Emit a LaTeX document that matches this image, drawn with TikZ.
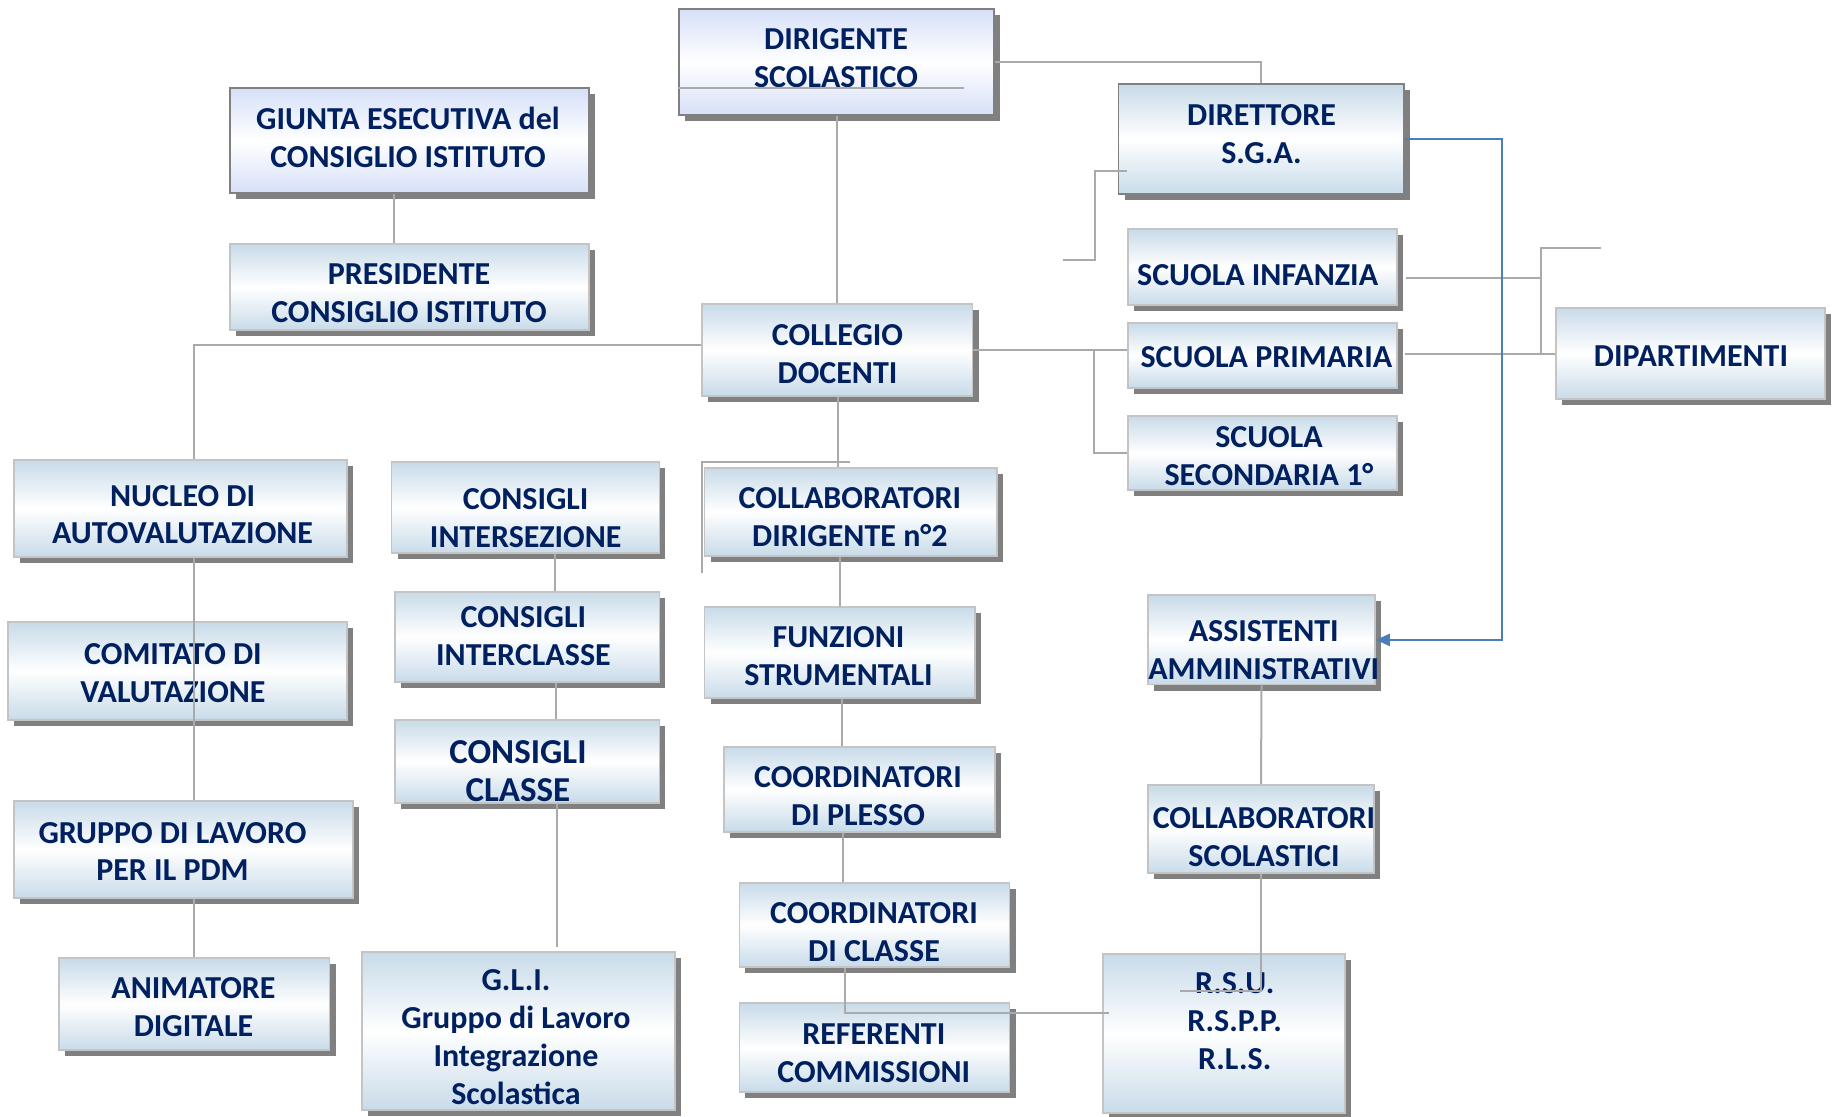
\documentclass[tikz,border=0pt]{standalone}
\usepackage{fontspec}
\setmainfont{Carlito}
\usetikzlibrary{shadows,arrows.meta}
\definecolor{navy}{RGB}{0,32,96}
\definecolor{boxblue}{RGB}{200,219,233}
\definecolor{lav}{RGB}{214,224,248}
\definecolor{lightborder}{RGB}{196,196,196}
\definecolor{darkborder}{RGB}{128,128,128}
\definecolor{shgray}{RGB}{128,128,128}
\definecolor{conngray}{RGB}{170,170,170}
\definecolor{linkblue}{RGB}{74,126,187}
\newcommand{\obox}[6]{\node[#2, minimum width={(#5-#3)*0.5pt}, minimum height={(#6-#4)*0.5pt}] (#1) at ({(#3+#5)/2},{(#4+#6)/2}) {};}
\tikzset{
 basebox/.style={rectangle, inner sep=0pt, line width=0.9pt,
   drop shadow={shadow xshift=3pt, shadow yshift=-3pt, fill=shgray, opacity=1}},
 bluebox/.style={basebox, draw=lightborder, top color=boxblue, bottom color=boxblue, middle color=white},
 lavbox/.style={basebox, draw=darkborder, top color=lav, bottom color=lav, middle color=white},
 dsgabox/.style={basebox, draw=darkborder, top color=boxblue, bottom color=boxblue, middle color=white},
 lbl/.style={text=navy, font=\bfseries\fontsize{16}{18.9}\selectfont, align=center, inner sep=0pt},
 biglbl/.style={lbl, font=\bfseries\fontsize{17.5}{19.3}\selectfont},
 conn/.style={draw=conngray, line width=1pt},
 bconn/.style={draw=linkblue, line width=1.2pt},
}
\begin{document}
\begin{tikzpicture}[x=0.5pt,y=-0.5pt]
\useasboundingbox (0,0) rectangle (1839,1117);
\fill[white] (0,0) rectangle (1839,1117);
% boxes
\obox{dir}{lavbox}{679}{9.3}{994}{115}
\obox{giu}{lavbox}{229.6}{88.3}{588.6}{193.3}
\obox{pres}{bluebox}{229.6}{244.3}{588.6}{330}
\obox{dsga}{dsgabox}{1118.5}{84.3}{1404}{194.3}
\obox{coll}{bluebox}{702}{304}{972.5}{396}
\obox{inf}{bluebox}{1128}{229.3}{1397}{305}
\obox{prim}{bluebox}{1128}{322.7}{1397}{387.7}
\obox{sec}{bluebox}{1128}{416}{1397}{490}
\obox{dip}{bluebox}{1555.8}{308}{1825}{399}
\obox{nuc}{bluebox}{13.8}{460}{347.3}{556.7}
\obox{com}{bluebox}{8}{622.3}{347.3}{720}
\obox{gru}{bluebox}{13.8}{801}{352.7}{898.3}
\obox{ani}{bluebox}{59}{958.3}{329.5}{1050}
\obox{int}{bluebox}{391.5}{462.3}{659.4}{553.3}
\obox{icl}{bluebox}{394.6}{591.7}{659.4}{681.7}
\obox{cla}{bluebox}{394.6}{720}{659.4}{802.7}
\obox{gli}{bluebox}{361.6}{952.3}{675}{1110}
\obox{cdir}{bluebox}{704.5}{467.7}{997}{556}
\obox{fun}{bluebox}{704.5}{606.7}{974.6}{698.3}
\obox{ple}{bluebox}{723.8}{746.7}{994.7}{831.7}
\obox{ccl}{bluebox}{739.4}{882.7}{1009.5}{967}
\obox{ref}{bluebox}{739.4}{1003.3}{1009.5}{1092}
\obox{ass}{bluebox}{1148}{595.3}{1375}{684.5}
\obox{csc}{bluebox}{1148}{785}{1374}{873.3}
\obox{rsu}{bluebox}{1102.8}{954}{1345}{1113.3}
% texts
\node[lbl] (dirT) at (836,58) {DIRIGENTE\\SCOLASTICO};
\node[lbl] (giuT) at (408,137.3) {GIUNTA ESECUTIVA del\\CONSIGLIO ISTITUTO};
\node[lbl] (presT) at (409,293.3) {PRESIDENTE\\CONSIGLIO ISTITUTO};
\node[lbl] (dsgaT) at (1261.5,134) {DIRETTORE\\S.G.A.};
\node[lbl] (collT) at (837.5,353.8) {COLLEGIO\\DOCENTI};
\node[lbl] (infT) at (1257.6,275) {SCUOLA INFANZIA};
\node[lbl] (primT) at (1266.4,356.7) {SCUOLA PRIMARIA};
\node[lbl] (secT) at (1269,455.8) {SCUOLA\\SECONDARIA 1°};
\node[lbl] (dipT) at (1691,356) {DIPARTIMENTI};
\node[lbl] (nucT) at (182.6,514.7) {NUCLEO DI\\AUTOVALUTAZIONE};
\node[lbl] (comT) at (173,673.3) {COMITATO DI\\VALUTAZIONE};
\node[lbl] (gruT) at (172.5,851.5) {GRUPPO DI LAVORO\\PER IL PDM};
\node[lbl] (aniT) at (193.5,1007.5) {ANIMATORE\\DIGITALE};
\node[lbl] (intT) at (525.7,517.8) {CONSIGLI\\INTERSEZIONE};
\node[lbl] (iclT) at (523.4,635.8) {CONSIGLI\\INTERCLASSE};
\node[biglbl] (claT) at (517.9,771.2) {CONSIGLI\\CLASSE};
\node[lbl] (gliT) at (516,1037) {G.L.I.\\Gruppo di Lavoro\\Integrazione\\Scolastica};
\node[lbl] (cdirT) at (849.9,517) {COLLABORATORI\\DIRIGENTE n°2};
\node[lbl] (funT) at (838.5,656) {FUNZIONI\\STRUMENTALI};
\node[lbl] (pleT) at (858,796) {COORDINATORI\\DI PLESSO};
\node[lbl] (cclT) at (874,932) {COORDINATORI\\DI CLASSE};
\node[lbl] (refT) at (873.75,1053.3) {REFERENTI\\COMMISSIONI};
\node[lbl] (assT) at (1263.7,650) {ASSISTENTI\\AMMINISTRATIVI};
\node[lbl] (cscT) at (1264,837.5) {COLLABORATORI\\SCOLASTICI};
\node[lbl] (rsuT) at (1234.7,1021) {R.S.U.\\R.S.P.P.\\R.L.S.};
% helper coordinates
\coordinate (dl) at (963.6,88);
\coordinate (gp) at (394,0);
\coordinate (cn) at (193.8,345);
\coordinate (ga) at (194.2,0);
\coordinate (ic1) at (555,0);
\coordinate (ic2) at (555.8,0);
\coordinate (glx) at (556.7,946.7);
\coordinate (c1) at (838.3,0);
\coordinate (c2) at (839.8,0);
\coordinate (c3) at (841.6,0);
\coordinate (c4) at (843.4,0);
\coordinate (c5) at (845,1013.3);
\coordinate (c6) at (1108.6,1013.3);
\coordinate (s1) at (849.6,462.3);
\coordinate (s2) at (702.3,572.7);
\coordinate (ch) at (1094,350);
\coordinate (d1) at (1127,170.7);
\coordinate (d2) at (1095,260);
\coordinate (d3) at (1062.6,260);
\coordinate (r1) at (1406,278.3);
\coordinate (r2) at (1540.7,248);
\coordinate (r3) at (1601,248);
\coordinate (r4) at (1405,0);
\coordinate (bx) at (1501.7,0);
\coordinate (rs1) at (1180,990.7);
% connectors
\draw[conn] (dir.east) -| (dsga.north);
\draw[conn] (dir.south) -- (dir.south |- coll.north);
\draw[conn] (dir.west |- dl) -- (dl);
\draw[conn] (giu.south -| gp) -- (pres.north -| gp);
\draw[conn] (coll.west |- cn) -- (cn) -- (nuc.north -| cn);
\draw[conn] (nuc.south -| cn) -- (gru.north -| cn);
\draw[conn] (gru.south -| ga) -- (ani.north -| ga);
\draw[conn] (int.south -| ic1) -- (icl.north -| ic1);
\draw[conn] (icl.south -| ic2) -- (cla.north -| ic2);
\draw[conn] (cla.south -| glx) -- (glx);
\draw[conn] (coll.south -| c1) -- (cdir.north -| c1);
\draw[conn] (s1) -| (s2);
\draw[conn] (cdir.south -| c2) -- (fun.north -| c2);
\draw[conn] (fun.south -| c3) -- (ple.north -| c3);
\draw[conn] (ple.south -| c4) -- (ccl.north -| c4);
\draw[conn] (ccl.south -| c5) -- (c5) -- (c6);
\draw[conn] (coll.east) -- (coll.east -| prim.west);
\draw[conn] (ch) |- (sec.west);
\draw[conn] (d1) -| (d2) -- (d3);
\draw[conn] (r1) -| (r2) -- (r3);
\draw[conn] (r2) |- (dip.west);
\draw[conn] (dip.west -| r4) -- (dip.west);
\draw[conn] (ass.south) -- (csc.north);
\draw[conn] (csc.south) |- (rs1);
\draw[bconn, -{Triangle[length=7pt,width=6pt]}] (dsga.east) -- (dsga.east -| bx) |- (ass.east);
\end{tikzpicture}
\end{document}
